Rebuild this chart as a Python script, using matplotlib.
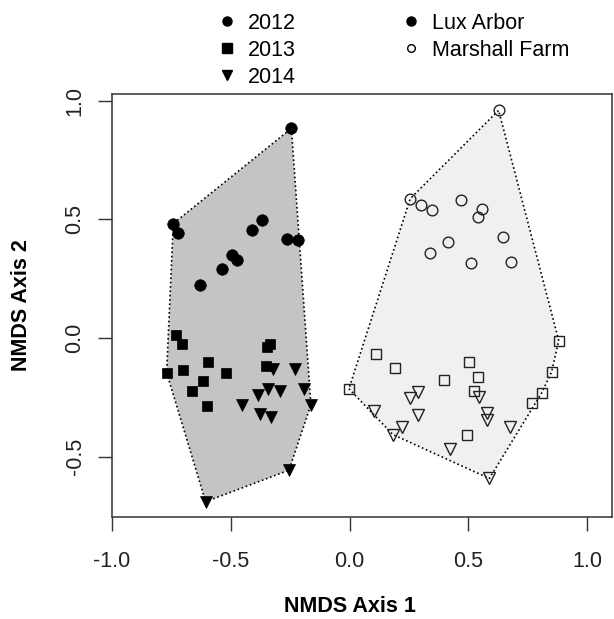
import matplotlib
matplotlib.use("Agg")
import matplotlib.pyplot as plt
from matplotlib.lines import Line2D
import numpy as np

plt.rcParams["font.family"] = ["Liberation Sans", "DejaVu Sans"]

# NMDS scores
LA_2012_X = [-0.245, -0.742, -0.723, -0.367, -0.409, -0.263, -0.217, -0.494, -0.476, -0.539, -0.630]
LA_2012_Y = [0.883, 0.482, 0.443, 0.498, 0.455, 0.419, 0.414, 0.348, 0.330, 0.292, 0.225]
LA_2013_X = [-0.731, -0.706, -0.336, -0.347, -0.594, -0.770, -0.702, -0.521, -0.352, -0.616, -0.662, -0.601]
LA_2013_Y = [0.012, -0.024, -0.024, -0.036, -0.103, -0.146, -0.135, -0.149, -0.117, -0.183, -0.225, -0.287]
LA_2014_X = [-0.322, -0.230, -0.343, -0.384, -0.291, -0.190, -0.455, -0.163, -0.378, -0.329, -0.255, -0.606]
LA_2014_Y = [-0.132, -0.130, -0.217, -0.242, -0.225, -0.217, -0.283, -0.281, -0.319, -0.335, -0.557, -0.690]

MF_2012_X = [0.627, 0.255, 0.300, 0.345, 0.468, 0.556, 0.541, 0.644, 0.413, 0.340, 0.511, 0.681]
MF_2012_Y = [0.959, 0.587, 0.561, 0.540, 0.581, 0.545, 0.510, 0.425, 0.405, 0.356, 0.316, 0.321]
MF_2013_X = [-0.003, 0.111, 0.192, 0.398, 0.504, 0.542, 0.522, 0.493, 0.880, 0.850, 0.808, 0.769]
MF_2013_Y = [-0.214, -0.069, -0.128, -0.176, -0.103, -0.165, -0.223, -0.410, -0.011, -0.143, -0.232, -0.272]
MF_2014_X = [0.289, 0.253, 0.102, 0.286, 0.221, 0.182, 0.423, 0.543, 0.580, 0.578, 0.675, 0.588]
MF_2014_Y = [-0.228, -0.253, -0.306, -0.326, -0.375, -0.407, -0.466, -0.249, -0.318, -0.347, -0.375, -0.592]

YEARS = ["2012", "2013", "2014"]
SITES = ["Lux Arbor", "Marshall Farm"]


def convex_hull(xs, ys):
    pts = sorted(set(zip(xs, ys)))

    def cross(o, a, b):
        return (a[0] - o[0]) * (b[1] - o[1]) - (a[1] - o[1]) * (b[0] - o[0])

    lower, upper = [], []
    for p in pts:
        while len(lower) >= 2 and cross(lower[-2], lower[-1], p) <= 0:
            lower.pop()
        lower.append(p)
    for p in reversed(pts):
        while len(upper) >= 2 and cross(upper[-2], upper[-1], p) <= 0:
            upper.pop()
        upper.append(p)
    return np.array(lower[:-1] + upper[:-1])


fig = plt.figure(figsize=(6.14, 6.19), dpi=100)
ax = fig.add_axes([0.1824, 0.1653, 0.8143, 0.6829])

sites = [
    ((LA_2012_X, LA_2012_Y), (LA_2013_X, LA_2013_Y), (LA_2014_X, LA_2014_Y)),
    ((MF_2012_X, MF_2012_Y), (MF_2013_X, MF_2013_Y), (MF_2014_X, MF_2014_Y)),
]
hull_fills = ["#c4c4c4", "#f0f0f0"]
markers = ["o", "s", "v"]
sizes = [8.3, 7.2, 9.0]

for s, groups in enumerate(sites):
    allx = sum([list(g[0]) for g in groups], [])
    ally = sum([list(g[1]) for g in groups], [])
    hull = convex_hull(allx, ally)
    ax.fill(hull[:, 0], hull[:, 1], facecolor=hull_fills[s], edgecolor="none", zorder=1)
    closed = np.vstack([hull, hull[:1]])
    ax.plot(closed[:, 0], closed[:, 1], color="black", lw=1.2, ls=(0, (1, 1.6)), zorder=2)
    for k, (gx, gy) in enumerate(groups):
        if s == 0:
            ax.plot(gx, gy, ls="none", marker=markers[k], ms=sizes[k],
                    mfc="black", mec="black", mew=0.5, zorder=3)
        else:
            ax.plot(gx, gy, ls="none", marker=markers[k], ms=sizes[k] - 0.6,
                    mfc="none", mec="#222222", mew=1.0, zorder=3)

ax.set_xlim(-1.0, 1.104)
ax.set_ylim(-0.753, 1.028)
ax.set_xticks([-1.0, -0.5, 0.0, 0.5, 1.0])
ax.set_yticks([-0.5, 0.0, 0.5, 1.0])
ax.set_xticklabels([f"{v:.1f}" for v in ax.get_xticks()])
ax.set_yticklabels([f"{v:.1f}" for v in ax.get_yticks()], rotation=90, va="center")
ax.tick_params(length=10, width=1, color="#333333", labelsize=15.5, labelcolor="#222222")
ax.tick_params(axis="x", pad=15)
ax.tick_params(axis="y", pad=9)
for sp in ax.spines.values():
    sp.set_linewidth(1.1)
    sp.set_color("#333333")

fig.text(350 / 614, 1 - 607 / 619, "NMDS Axis 1", ha="center", va="center",
         fontsize=15.5, fontweight="bold")
fig.text(22 / 614, 1 - 305 / 619, "NMDS Axis 2", ha="center", va="center",
         fontsize=15.5, fontweight="bold", rotation=90)

year_handles = [Line2D([], [], ls="none", marker=m, ms=6.5, color="black") for m in markers]
fig.legend(year_handles, YEARS, loc="upper left", bbox_to_anchor=(0.348, 0.986),
           frameon=False, fontsize=15.5, handlelength=0.8, handletextpad=0.6,
           labelspacing=0.27, borderaxespad=0.0, borderpad=0.2)
site_handles = [Line2D([], [], ls="none", marker="o", ms=6.5, color="black"),
                Line2D([], [], ls="none", marker="o", ms=5.5, mfc="none", mec="black", mew=1.0)]
fig.legend(site_handles, SITES, loc="upper left", bbox_to_anchor=(0.648, 0.986),
           frameon=False, fontsize=15.5, handlelength=0.8, handletextpad=0.6,
           labelspacing=0.27, borderaxespad=0.0, borderpad=0.2)

fig.savefig("out.png", dpi=100)
